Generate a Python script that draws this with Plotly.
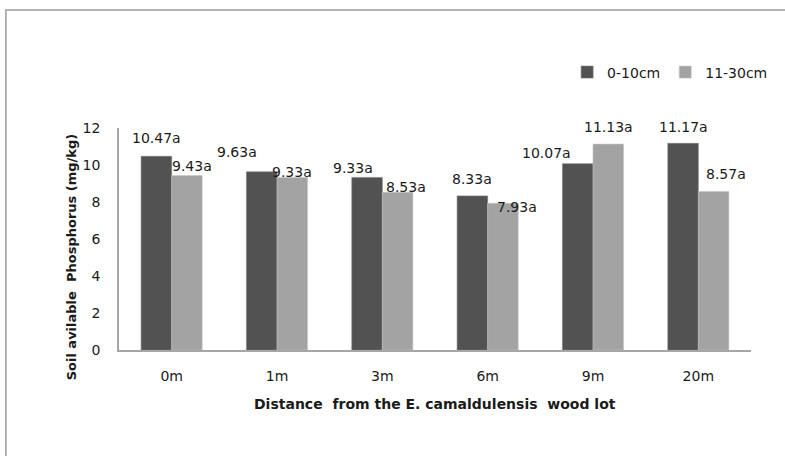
import plotly.graph_objects as go

# Soil available phosphorus by distance from the wood lot, two soil depths
distances = ["0m", "1m", "3m", "6m", "9m", "20m"]
depth_top = [10.47, 9.63, 9.33, 8.33, 10.07, 11.17]      # 0-10cm
depth_sub = [9.43, 9.33, 8.53, 7.93, 11.13, 8.57]        # 11-30cm
letters_top = ["a", "a", "a", "a", "a", "a"]
letters_sub = ["a", "a", "a", "a", "a", "a"]
y_ticks = [0, 2, 4, 6, 8, 10, 12]

# Hand-placed label nudges (pixels: dx right, dy up from bar top)
nudge_top = [(0, 18), (-25, 20), (-14, 9), (0, 17), (-31, 11), (0, 16)]
nudge_sub = [(5, 10), (0, 5), (8, 5), (14, -4), (0, 17), (12, 17)]

FONT = "DejaVu Sans"
TXT = "#1a1a1a"
BARGAP = 0.42
M_L, M_R, M_T, M_B = 119, 34, 128, 106
W, H = 785, 456

fig = go.Figure()
fig.add_trace(go.Bar(
    x=distances, y=depth_top, name="0-10cm",
    marker=dict(color="#525252", line=dict(color="#7a7a7a", width=0.6)),
))
fig.add_trace(go.Bar(
    x=distances, y=depth_sub, name="11-30cm",
    marker=dict(color="#a3a3a3", line=dict(color="#c4c4c4", width=0.6)),
))

# value labels above each bar
cat_px = (W - M_L - M_R) / len(distances)
half = cat_px * (1 - BARGAP) / 4
for vals, lets, nudges, side in ((depth_top, letters_top, nudge_top, -1),
                                 (depth_sub, letters_sub, nudge_sub, 1)):
    for cat, v, l, (dx, dy) in zip(distances, vals, lets, nudges):
        fig.add_annotation(x=cat, y=v, xref="x", yref="y",
                           text=f"{v:.2f}{l}", showarrow=False,
                           xanchor="center", yanchor="middle",
                           xshift=side * half + dx, yshift=dy,
                           font=dict(family=FONT, size=14, color=TXT))

fig.update_layout(
    width=W, height=H,
    margin=dict(l=M_L, r=M_R, t=M_T, b=M_B),
    paper_bgcolor="white", plot_bgcolor="white",
    barmode="group", bargap=BARGAP, bargroupgap=0,
    font=dict(family=FONT, size=14, color=TXT),
    showlegend=True,
    legend=dict(orientation="h", x=1.035, xanchor="right", y=1.25, yanchor="middle",
                font=dict(family=FONT, size=14, color=TXT),
                itemwidth=30, tracegroupgap=0, bgcolor="rgba(0,0,0,0)"),
)
fig.update_xaxes(showline=True, linecolor="#a6a6a6", linewidth=1.5, ticks="",
                 tickfont=dict(family=FONT, size=14, color=TXT), ticklabelstandoff=12)
fig.update_yaxes(range=[0, 12], tickvals=y_ticks, showgrid=False, zeroline=False,
                 showline=True, linecolor="#a6a6a6", linewidth=1.5, ticks="",
                 ticklabelstandoff=14,
                 tickfont=dict(family=FONT, size=14, color=TXT))

fig.add_annotation(text="<b>Distance  from the E. camaldulensis  wood lot</b>",
                   xref="paper", yref="paper", x=0.5, y=-0.245, yanchor="middle",
                   showarrow=False, font=dict(family=FONT, size=14, color=TXT))
fig.add_annotation(text="<b>Soil avilable  Phosphorus (mg/kg)</b>",
                   xref="paper", yref="paper", x=-0.075, y=0.42, xanchor="center",
                   yanchor="middle", textangle=-90,
                   showarrow=False, font=dict(family=FONT, size=13, color=TXT))

# Outer chart frame
fig.add_shape(type="rect", xref="paper", yref="paper",
              x0=-0.179, x1=1.1, y0=-0.5, y1=1.532,
              line=dict(color="#9a9a9a", width=1.5), fillcolor="rgba(0,0,0,0)", layer="below")

fig.write_html("out.html")
